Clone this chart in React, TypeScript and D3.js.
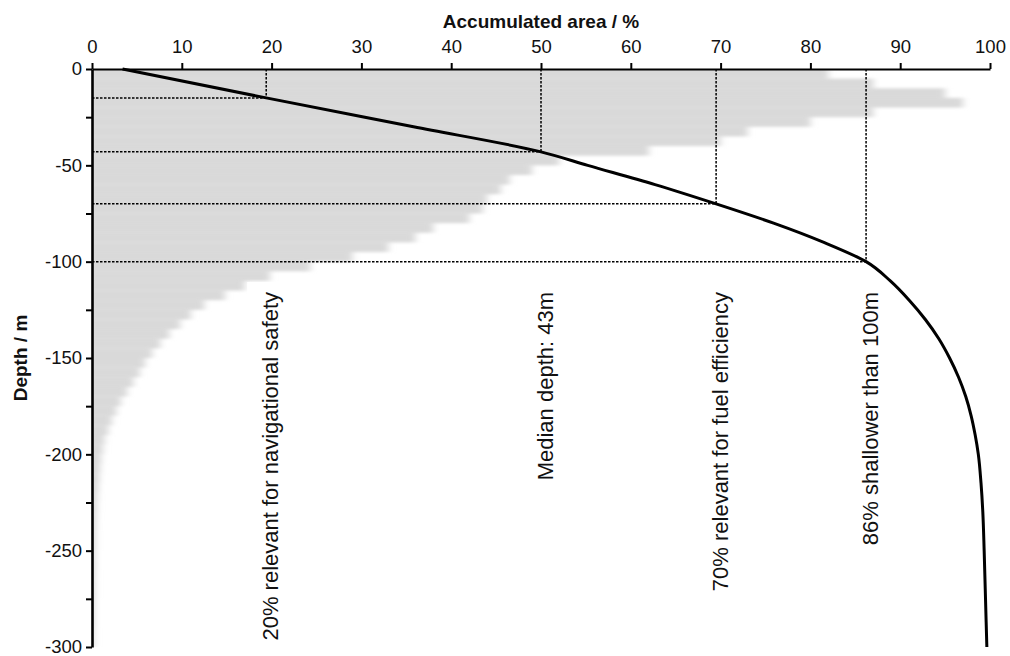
import React, { useEffect, useRef } from "react";
import * as d3 from "d3";

// ---------- data ----------
const xTicks = [0, 10, 20, 30, 40, 50, 60, 70, 80, 90, 100];
const yTicks = [0, -25, -50, -75, -100, -125, -150, -175, -200, -225, -250, -275, -300];
const yLabelled = [0, -50, -100, -150, -200, -250, -300];

// histogram of area per depth bin (5 m bins), in units of the x axis
const histDepthStart = [
  0, 5, 10, 15, 20, 25, 30, 35, 40, 45, 50, 55, 60, 65, 70, 75, 80, 85, 90, 95,
  100, 105, 110, 115, 120, 125, 130, 135, 140, 145, 150, 155, 160, 165, 170, 175, 180, 185, 190, 195,
  200, 205, 210, 215, 220, 225, 230, 235, 240, 245, 250, 255, 260, 265, 270, 275, 280, 285, 290, 295,
];
const histValue = [
  82, 87, 95, 97, 87, 80, 73, 70, 62, 52, 49, 46.5, 45.5, 44, 43.5, 42, 38, 36, 33, 29,
  24.3, 19.8, 17, 14.8, 12.5, 11, 9.8, 8.6, 7.6, 6.7, 5.9, 5.3, 4.6, 3.9, 3.2, 2.7, 2.2, 1.8, 1.4, 1.2,
  1.0, 0.9, 0.8, 0.7, 0.6, 0.55, 0.5, 0.45, 0.4, 0.4, 0.35, 0.35, 0.3, 0.3, 0.3, 0.25, 0.25, 0.25, 0.2, 0.2,
];

// accumulated area curve
const curveDepth = [0, 15, 30, 43, 50, 60, 70, 80, 90, 100, 110, 120, 130, 140, 150, 160, 170, 180, 190, 200, 215, 230, 250, 275, 300];
const curvePct = [3.4, 19.4, 35.8, 50, 55.2, 62.7, 69.5, 75.9, 81.5, 86.2, 88.9, 91.0, 92.8, 94.3, 95.5, 96.5, 97.3, 97.9, 98.35, 98.7, 99.0, 99.2, 99.35, 99.5, 99.65];

// thresholds
const markerDepth = [15, 43, 70, 100];
const markerPct = [19.4, 50, 69.5, 86.2];
const markerLabels = [
  "20% relevant for navigational safety",
  "Median depth: 43m",
  "70% relevant for fuel efficiency",
  "86% shallower than 100m",
];

const xTitle = "Accumulated area / %";
const yTitle = "Depth / m";

// ---------- layout ----------
const W = 1010;
const H = 656;
const X0 = 92;
const X1 = 990;
const Y0 = 69;
const Y1 = 647;
const FONT = "'Liberation Sans', Arial, Helvetica, sans-serif";
const LABEL_TOP = 292;

export default function App() {
  const xAxisRef = useRef<SVGGElement>(null);
  const yAxisRef = useRef<SVGGElement>(null);

  const x = d3.scaleLinear().domain([0, 100]).range([X0, X1]);
  const y = d3.scaleLinear().domain([0, -300]).range([Y0, Y1]);

  useEffect(() => {
    const xa = d3
      .axisTop(x)
      .tickValues(xTicks)
      .tickSize(6)
      .tickSizeOuter(0)
      .tickPadding(10)
      .tickFormat((d) => String(d));
    const gx = d3.select(xAxisRef.current!);
    gx.call(xa as any);
    gx.select(".domain").attr("stroke", "#000").attr("stroke-width", 2.2);
    gx.selectAll(".tick line").attr("stroke", "#000").attr("stroke-width", 2);
    gx.selectAll(".tick text")
      .attr("fill", "#111")
      .style("font-family", FONT)
      .style("font-size", "18.5px");

    const ya = d3
      .axisLeft(y)
      .tickValues(yTicks)
      .tickSize(6)
      .tickSizeOuter(0)
      .tickPadding(4)
      .tickFormat((d) => (yLabelled.includes(d as number) ? String(d) : ""));
    const gy = d3.select(yAxisRef.current!);
    gy.call(ya as any);
    gy.select(".domain").attr("stroke", "#000").attr("stroke-width", 2.6);
    gy.selectAll(".tick line").attr("stroke", "#000").attr("stroke-width", 2);
    gy.selectAll(".tick text")
      .attr("fill", "#111")
      .style("font-family", FONT)
      .style("font-size", "18.5px");
  }, []);

  const line = d3
    .line<number>()
    .x((_, i) => x(curvePct[i]))
    .y((d) => y(-d))
    .curve(d3.curveMonotoneY);

  const labelSize = 22;

  return (
    <svg
      width={W}
      height={H}
      style={{ position: "absolute", left: 0, top: 0, background: "#fff" }}
      fontFamily={FONT}
    >
      <defs>
        <filter id="soft" filterUnits="userSpaceOnUse" x={0} y={Y0} width={W} height={H - Y0}>
          <feGaussianBlur stdDeviation="3.5 1.5" />
        </filter>
        <clipPath id="plotclip">
          <rect x={X0} y={Y0} width={X1 - X0 + 10} height={Y1 - Y0} />
        </clipPath>
      </defs>
      <rect x={0} y={0} width={W} height={H} fill="#fff" />

      {/* histogram */}
      <g clipPath="url(#plotclip)">
        <g filter="url(#soft)">
          {histDepthStart.map((d, i) => (
            <rect
              key={i}
              x={x(0) - 4}
              y={y(-d) - (i === 0 ? 4 : 0)}
              width={Math.max(0, x(histValue[i]) - x(0) + 4)}
              height={y(-(d + 5)) - y(-d) + (i === 0 ? 4 : 0)}
              fill="#d9d9d9"
            />
          ))}
        </g>
      </g>

      {/* white boxes behind labels */}
      <g>
        {markerLabels.map((t, i) => {
          const bx = x(markerPct[i]) + 12;
          const len = t.length * labelSize * 0.45;
          return (
            <rect
              key={i}
              x={bx - 31}
              y={LABEL_TOP - 10}
              width={56}
              height={len + 30}
              fill="#fff"
            />
          );
        })}
      </g>

      {/* dashed threshold lines */}
      <g stroke="#000" strokeWidth={1.5} strokeDasharray="2.5 1.5" fill="none">
        {markerDepth.map((d, i) => (
          <g key={i}>
            <line x1={x(0)} x2={x(markerPct[i])} y1={y(-d)} y2={y(-d)} />
            <line x1={x(markerPct[i])} x2={x(markerPct[i])} y1={y(0)} y2={y(-d)} />
          </g>
        ))}
      </g>

      {/* accumulated curve */}
      <path d={line(curveDepth) || ""} fill="none" stroke="#000" strokeWidth={3} />

      {/* axes */}
      <g ref={xAxisRef} transform={`translate(0,${Y0})`} />
      <g ref={yAxisRef} transform={`translate(${X0},0)`} />

      {/* titles */}
      <text x={541} y={28} textAnchor="middle" fontWeight="bold" fontSize={19} fill="#111">
        {xTitle}
      </text>
      <text
        transform={`translate(27,${(Y0 + Y1) / 2}) rotate(-90)`}
        textAnchor="middle"
        fontWeight="bold"
        fontSize={19}
        fill="#111"
      >
        {yTitle}
      </text>

      {/* threshold labels */}
      <g>
        {markerLabels.map((t, i) => (
          <text
            key={i}
            transform={`translate(${x(markerPct[i]) + 12},${LABEL_TOP}) rotate(-90)`}
            textAnchor="end"
            fontSize={labelSize}
            fill="#111"
          >
            {t}
          </text>
        ))}
      </g>
    </svg>
  );
}
